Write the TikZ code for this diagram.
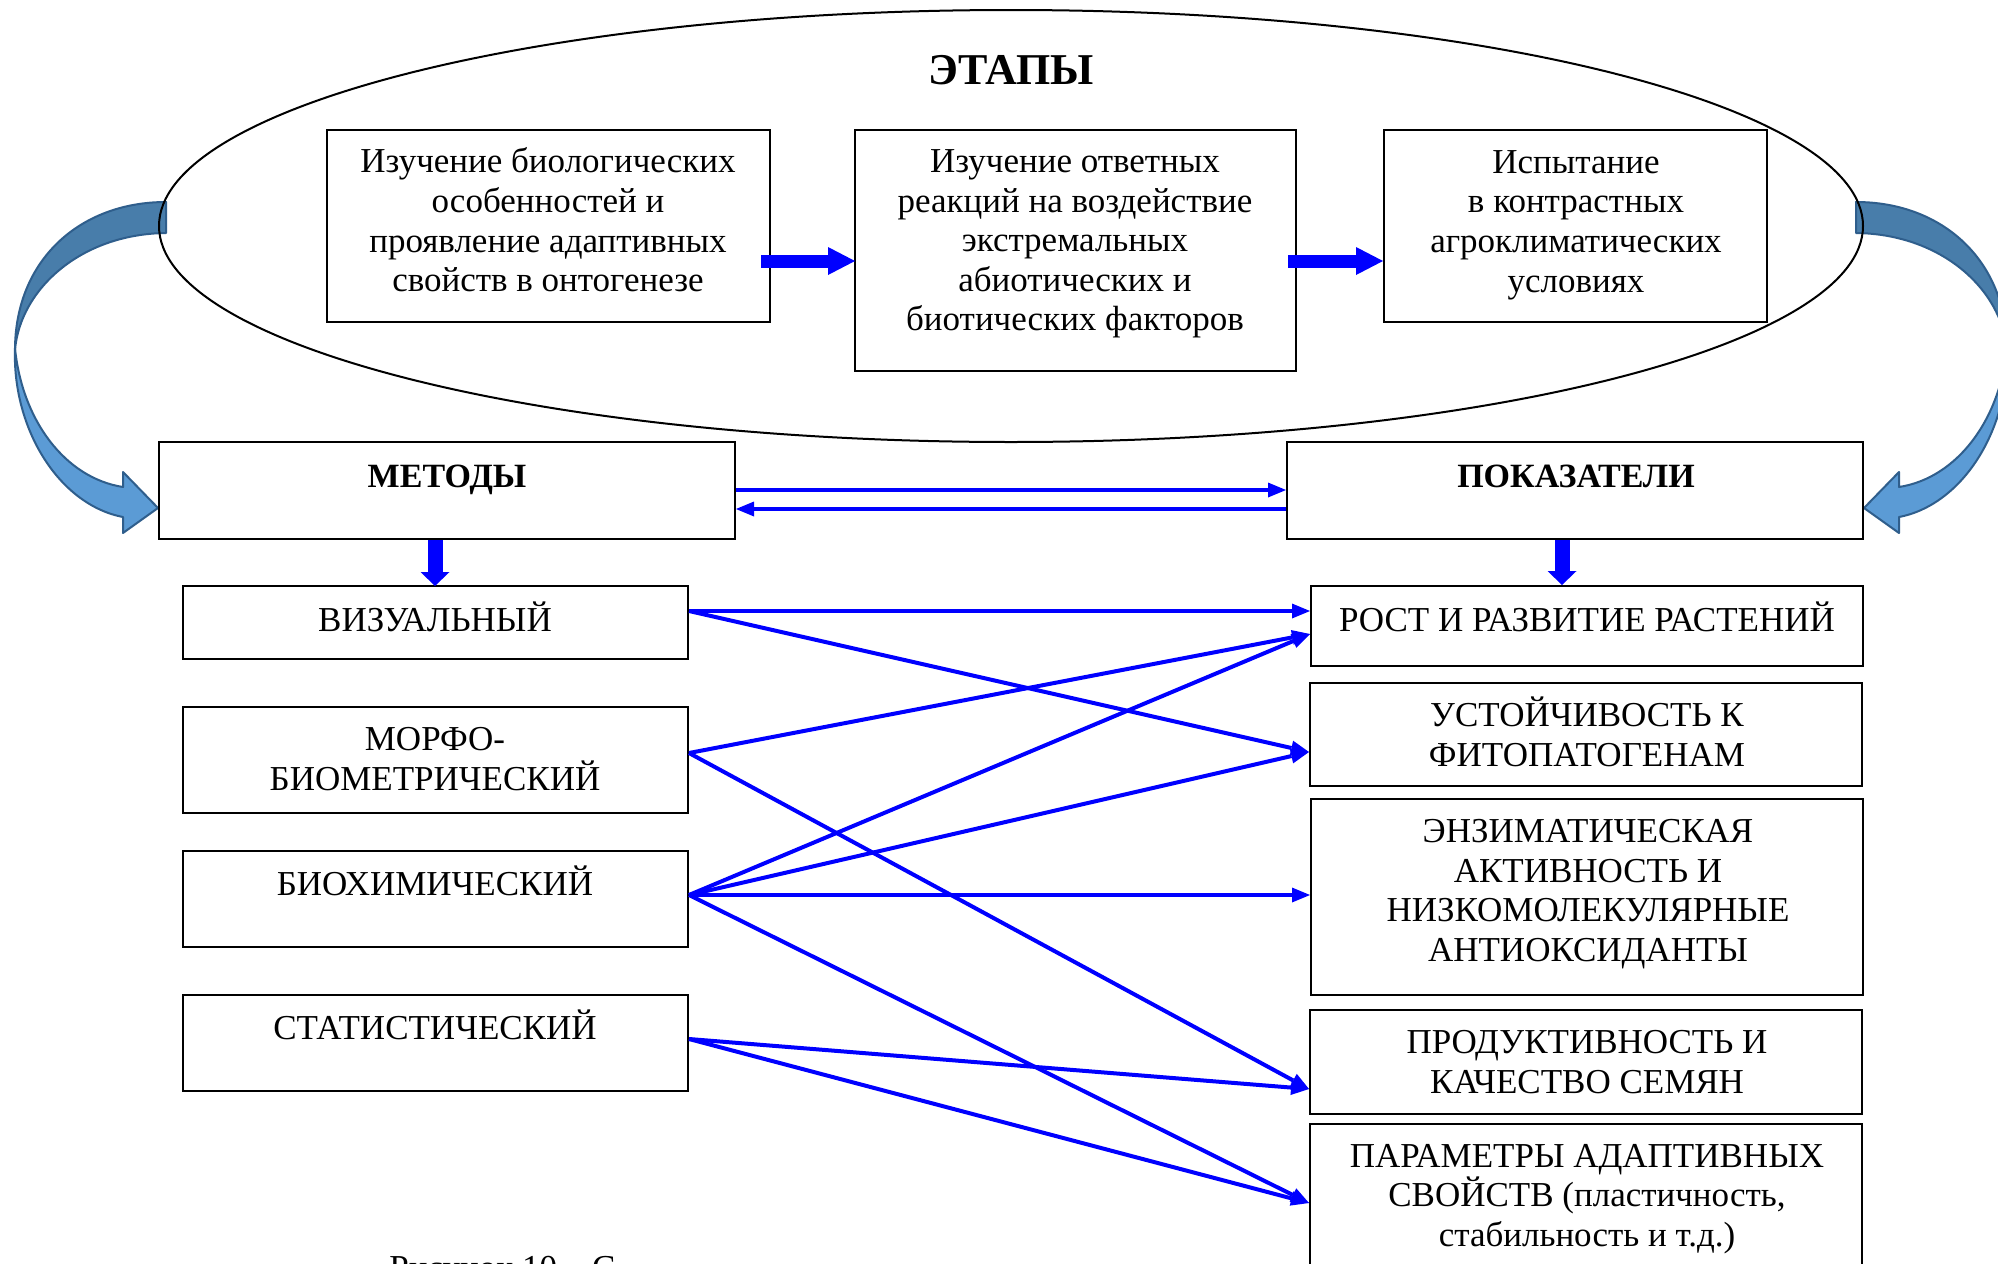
\documentclass[tikz,border=0pt]{standalone}
\usepackage{fontspec}
\setmainfont{Liberation Serif}
\usetikzlibrary{fit,calc,arrows.meta,shapes.geometric}
\definecolor{bandDark}{HTML}{487DAA}
\definecolor{bandLight}{HTML}{5B9BD5}
\definecolor{bandEdge}{HTML}{2F5E8C}
\begin{document}
\begin{tikzpicture}[x=0.5pt,y=-0.5pt,
  box/.style={draw=black,line width=1pt,inner sep=0pt},
  txt/.style={inner sep=0pt,align=center,font=\fontsize{17.5}{19.8}\selectfont},
  head/.style={inner sep=0pt,font=\fontsize{17}{20}\selectfont\bfseries},
  conn/.style={draw=blue,line width=2pt,-{Triangle[length=9pt,width=7.5pt,line width=0pt]}},
  thickarr/.style={draw=blue,line width=6.5pt,-{Triangle[length=13.5pt,width=14pt,line width=0pt]}},
  downarr/.style={draw=blue,line width=7.5pt,-{Triangle[length=7pt,width=14.5pt,line width=0pt]}},
  band/.style={draw=bandEdge,line width=1pt,line join=round}
]
\useasboundingbox (0,0) rectangle (1998,1264);
\clip (0,0) rectangle (1998,1264);
\fill[white] (0,0) rectangle (1998,1264);

% curved band arrows (left, and mirrored right)
\foreach \s/\o in {1/0,-1/2022}{
\begin{scope}[shift={(\o,0)},xscale=\s]
  \filldraw[band,fill=bandDark] (166,202) .. controls (80,202) and (15,260) .. (15,350)
     .. controls (20,290) and (80,234) .. (166,233) -- cycle;
  \filldraw[band,fill=bandLight] (15,348) .. controls (12,430) and (60,505) .. (123,517)
     -- (123,533) -- (158,508) -- (123,472) -- (123,487)
     .. controls (65,478) and (22,420) .. (15,348) -- cycle;
\end{scope}}

% ellipse of stages
\node[draw=black,line width=1pt,ellipse,minimum width=852pt,minimum height=216pt,inner sep=0pt] (etapy) at (1011,226) {};
\node[inner sep=0pt,font=\fontsize{22}{24}\selectfont\bfseries] (etapyt) at (1011,70) {ЭТАПЫ};

\node[box,fit={(327,130)(770,322)}] (e1) {};
\node[box,fit={(855,130)(1296,371)}] (e2) {};
\node[box,fit={(1384,130)(1767,322)}] (e3) {};
\node[txt] (e1t) at (548,220) {Изучение биологических\\особенностей и\\проявление адаптивных\\свойств в онтогенезе};
\node[txt] (e2t) at (1075,244) {Изучение ответных\\реакций на воздействие\\экстремальных\\абиотических и\\биотических факторов};
\node[txt] (e3t) at (1576,225) {Испытание\\в контрастных\\агроклиматических\\условиях};

\draw[thickarr] ($(e1.north east)+(-10,132)$) -- ($(e2.north west)+(1,132)$);
\draw[thickarr] ($(e2.north east)+(-9,132)$) -- ($(e3.north west)+(0,132)$);

% methods / indicators
\node[box,fit={(159,442)(735,539)}] (met) {};
\node[box,fit={(1287,442)(1863,539)}] (pok) {};
\node[head] (mett) at (447,480) {МЕТОДЫ};
\node[head] (pokt) at (1576,476) {ПОКАЗАТЕЛИ};
\draw[conn] ($(met.north east)+(0,49)$) -- ($(pok.north west)+(0,49)$);
\draw[conn] ($(pok.north west)+(0,68)$) -- ($(met.north east)+(0,68)$);

% left boxes
\node[box,fit={(183,586)(688,659)}] (viz) {};
\node[box,fit={(183,707)(688,813)}] (morf) {};
\node[box,fit={(183,851)(688,947)}] (bio) {};
\node[box,fit={(183,995)(688,1091)}] (stat) {};
\node[txt] (vizt) at (435,617) {ВИЗУАЛЬНЫЙ};
\node[txt] (morft) at (435,759) {МОРФО-\\БИОМЕТРИЧЕСКИЙ};
\node[txt] (biot) at (435,881) {БИОХИМИЧЕСКИЙ};
\node[txt] (statt) at (435,1025) {СТАТИСТИЧЕСКИЙ};

% right boxes
\node[box,fit={(1311,586)(1863,666)}] (rost) {};
\node[box,fit={(1310,683)(1862,786)}] (ust) {};
\node[box,fit={(1311,799)(1863,995)}] (enz) {};
\node[box,fit={(1310,1010)(1862,1114)}] (prod) {};
\node[box,fit={(1310,1124)(1862,1300)}] (param) {};
\node[txt] (rostt) at (1587,617) {РОСТ И РАЗВИТИЕ РАСТЕНИЙ};
\node[txt] (ustt) at (1587,732) {УСТОЙЧИВОСТЬ К\\ФИТОПАТОГЕНАМ};
\node[txt] (enzt) at (1588,894) {ЭНЗИМАТИЧЕСКАЯ\\АКТИВНОСТЬ И\\НИЗКОМОЛЕКУЛЯРНЫЕ\\АНТИОКСИДАНТЫ};
\node[txt] (prodt) at (1587,1062) {ПРОДУКТИВНОСТЬ И\\КАЧЕСТВО СЕМЯН};
\node[txt] (paramt) at (1587,1199) {ПАРАМЕТРЫ АДАПТИВНЫХ\\СВОЙСТВ (пластичность,\\стабильность и т.д.)};

% down arrows
\draw[downarr] ($(met.south west)+(277,0)$) -- ($(viz.north west)+(253,1)$);
\draw[downarr] ($(pok.south west)+(276,0)$) -- ($(rost.north west)+(252,0)$);

% connectors
\draw[conn] ($(viz.north east)+(0,26)$) -- ($(rost.north west)+(0,26)$);
\draw[conn] ($(viz.north east)+(0,26)$) -- ($(ust.north west)+(0,70)$);
\draw[conn] ($(morf.north east)+(0,47)$) -- ($(rost.north west)+(0,49)$);
\draw[conn] ($(morf.north east)+(0,47)$) -- ($(prod.north west)+(0,80)$);
\draw[conn] ($(bio.north east)+(0,45)$) -- ($(rost.north west)+(0,49)$);
\draw[conn] ($(bio.north east)+(0,45)$) -- ($(ust.north west)+(0,70)$);
\draw[conn] ($(bio.north east)+(0,45)$) -- ($(enz.north west)+(0,97)$);
\draw[conn] ($(bio.north east)+(0,45)$) -- ($(param.north west)+(0,80)$);
\draw[conn] ($(stat.north east)+(0,45)$) -- ($(prod.north west)+(0,80)$);
\draw[conn] ($(stat.north east)+(0,45)$) -- ($(param.north west)+(0,80)$);

% caption (cut off by the page edge, as in the reference)
\node[anchor=base west,inner sep=0pt,font=\fontsize{17.5}{20}\selectfont] (capt) at (389,1279) {Рисунок 10 – С};
\end{tikzpicture}
\end{document}
